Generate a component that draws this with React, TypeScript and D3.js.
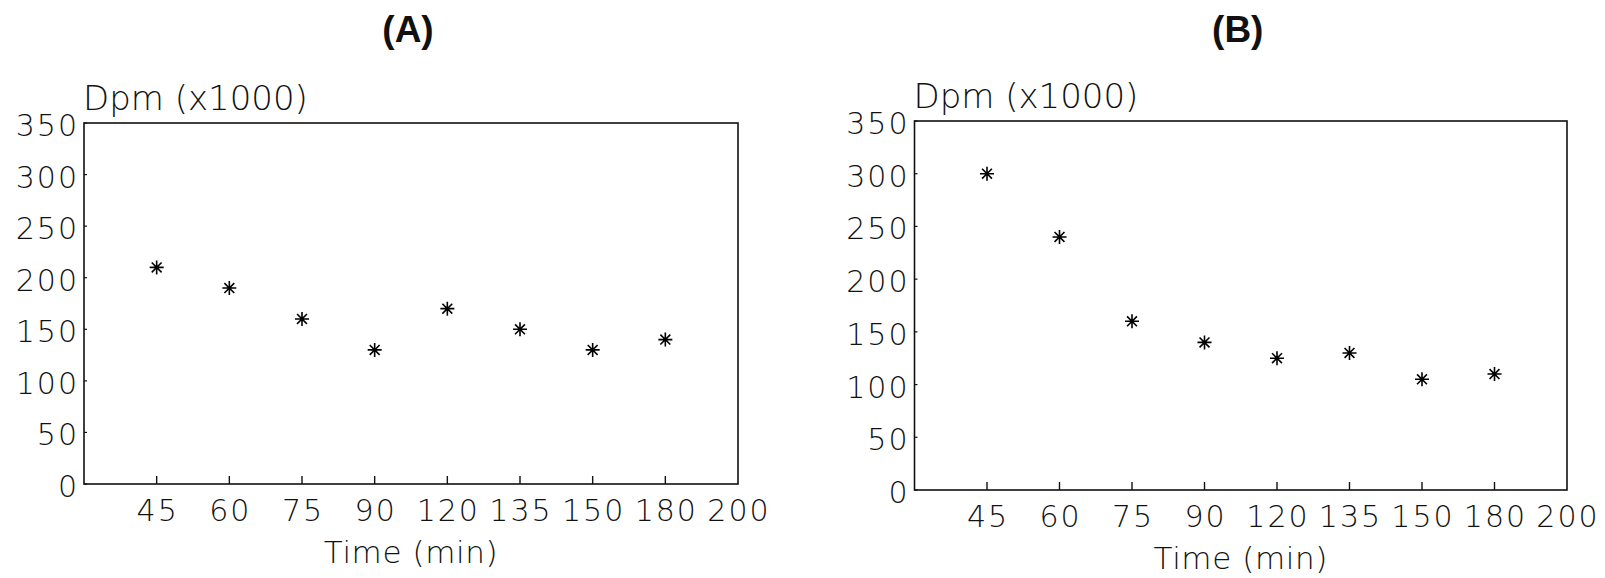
import React from "react";
import * as d3 from "d3";

const categories = ["45", "60", "75", "90", "120", "135", "150", "180"];
const xEndLabel = "200";
const yTicks = [0, 50, 100, 150, 200, 250, 300, 350];
const seriesA = [210, 190, 160, 130, 170, 150, 130, 140];
const seriesB = [300, 240, 160, 140, 125, 130, 105, 110];
const titles = ["(A)", "(B)"];
const yLabel = "Dpm (x1000)";
const xLabel = "Time (min)";

const W = 1605;
const H = 578;
const FONT = "'DejaVu Sans', sans-serif";
const LS = 2;

type PanelProps = {
  left: number; right: number; top: number; bottom: number;
  values: number[]; title: string; yLabelBase: number;
};

function asteriskPath(r: number) {
  const p = d3.path();
  for (let k = 0; k < 4; k++) {
    const a = (k * Math.PI) / 4;
    p.moveTo(-r * Math.cos(a), -r * Math.sin(a));
    p.lineTo(r * Math.cos(a), r * Math.sin(a));
  }
  return p.toString();
}

function Panel({ left, right, top, bottom, values, title, yLabelBase }: PanelProps) {
  const positions = d3.range(0, categories.length + 2);
  const x = d3.scaleLinear().domain([0, categories.length + 1]).range([left, right]);
  const y = d3.scaleLinear().domain([0, 350]).range([bottom, top]);
  const star = asteriskPath(7);
  const cx = (left + right) / 2;
  return (
    <g>
      <text x={cx - 3} y={42} textAnchor="middle" fontFamily="'Liberation Sans Narrow', 'Liberation Sans', Arial, sans-serif"
        fontWeight="bold" fontSize={37} fill="#111">{title}</text>
      <text x={left - 1} y={yLabelBase} fontFamily={FONT} fontWeight={200} fontSize={34} fill="#111">{yLabel}</text>
      <rect x={left} y={top} width={right - left} height={bottom - top} fill="none" stroke="#111" strokeWidth={1.6} />
      {yTicks.map((t) => (
        <g key={t}>
          <line x1={left} x2={left + 3} y1={y(t)} y2={y(t)} stroke="#111" strokeWidth={1.2} />
          <text x={left - 7 + LS} y={y(t) + 13} textAnchor="end" fontFamily={FONT} fontWeight={200} fontSize={30} letterSpacing={LS} fill="#111">{t}</text>
        </g>
      ))}
      {categories.map((c, i) => (
        <g key={c}>
          <line x1={x(i + 1)} x2={x(i + 1)} y1={bottom} y2={bottom - 8} stroke="#111" strokeWidth={1.4} />
          <text x={x(i + 1) + LS / 2} y={bottom + 37} textAnchor="middle" fontFamily={FONT} fontWeight={200} fontSize={30} letterSpacing={LS} fill="#111">{c}</text>
        </g>
      ))}
      <text x={x(positions[positions.length - 1]) + LS / 2} y={bottom + 37} textAnchor="middle" fontFamily={FONT} fontWeight={200} fontSize={30} letterSpacing={LS} fill="#111">{xEndLabel}</text>
      <text x={cx} y={bottom + 79} textAnchor="middle" fontFamily={FONT} fontWeight={200} fontSize={31} letterSpacing={0.6} fill="#111">{xLabel}</text>
      {values.map((v, i) => (
        <path key={i} d={star} transform={`translate(${x(i + 1)},${y(v)})`} stroke="#000" strokeWidth={1.6} fill="none" />
      ))}
    </g>
  );
}

export default function App() {
  return (
    <div style={{ position: "absolute", left: 0, top: 0 }}>
      <svg width={W} height={H} viewBox={`0 0 ${W} ${H}`} style={{ display: "block", background: "#fff" }}>
        <Panel left={84} right={738} top={123} bottom={484} values={seriesA} title={titles[0]} yLabelBase={110} />
        <Panel left={914.5} right={1567} top={121} bottom={490} values={seriesB} title={titles[1]} yLabelBase={108} />
      </svg>
    </div>
  );
}
